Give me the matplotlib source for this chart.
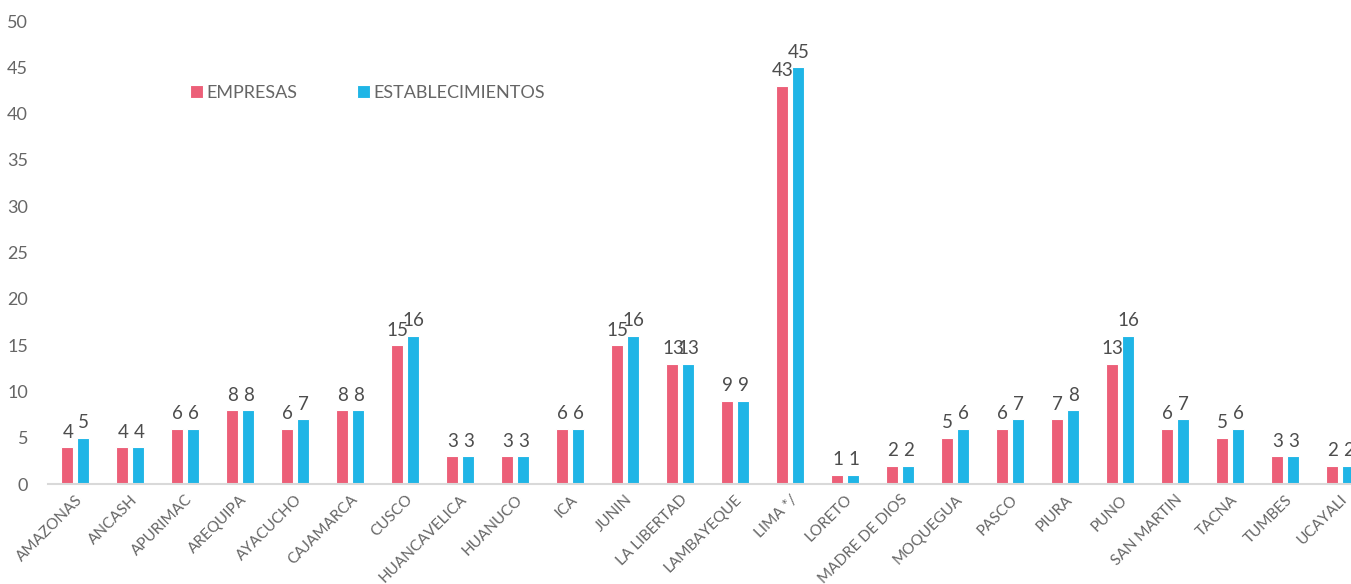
import matplotlib
matplotlib.use("Agg")
import matplotlib.pyplot as plt
import numpy as np

plt.rcParams['font.family'] = ['Lato', 'DejaVu Sans']

regiones = ["AMAZONAS", "ANCASH", "APURIMAC", "AREQUIPA", "AYACUCHO", "CAJAMARCA",
            "CUSCO", "HUANCAVELICA", "HUANUCO", "ICA", "JUNIN", "LA LIBERTAD",
            "LAMBAYEQUE", "LIMA */", "LORETO", "MADRE DE DIOS", "MOQUEGUA", "PASCO",
            "PIURA", "PUNO", "SAN MARTIN", "TACNA", "TUMBES", "UCAYALI"]
empresas = [4, 4, 6, 8, 6, 8, 15, 3, 3, 6, 15, 13, 9, 43, 1, 2, 5, 6, 7, 13, 6, 5, 3, 2]
establecimientos = [5, 4, 6, 8, 7, 8, 16, 3, 3, 6, 16, 13, 9, 45, 1, 2, 6, 7, 8, 16, 7, 6, 3, 2]

rojo = "#EC5F78"
azul = "#1FB5E6"
gris = "#666666"

fig = plt.figure(figsize=(13.51, 5.84), dpi=100)
ax = fig.add_axes([0.0352, 0.171, 0.9648, 0.793])

x = np.arange(len(regiones))
w = 0.23
ax.bar(x - 0.145, empresas, width=w, color=rojo, edgecolor="white", linewidth=0.8, label="EMPRESAS")
ax.bar(x + 0.145, establecimientos, width=w, color=azul, edgecolor="white", linewidth=0.8, label="ESTABLECIMIENTOS")

for xi, v in zip(x, empresas):
    ax.text(xi - 0.13, v + 0.7, str(v), ha="center", va="bottom", fontsize=13.5, color="#4D4D4D")
for xi, v in zip(x, establecimientos):
    ax.text(xi + 0.16, v + 0.7, str(v), ha="center", va="bottom", fontsize=13.5, color="#4D4D4D")

ax.set_xlim(-0.5, 23.2)
ax.set_ylim(0, 50)
ax.set_yticks(range(0, 51, 5))
ax.set_xticks(x)
ax.set_xticklabels(regiones, rotation=45, ha="right", rotation_mode="anchor", fontsize=11, color=gris)
ax.tick_params(axis="y", labelsize=13, labelcolor=gris, length=0, pad=14)
ax.tick_params(axis="x", length=0, pad=6)

for s in ["top", "right", "left"]:
    ax.spines[s].set_visible(False)
ax.spines["bottom"].set_color("#D9D9D9")
ax.spines["bottom"].set_linewidth(1.5)

ax.legend(loc="center left", bbox_to_anchor=(0.097, 0.845), ncol=2, frameon=False,
          fontsize=13, labelcolor=gris, handlelength=0.7, handleheight=0.7,
          handletextpad=0.2, columnspacing=3.3)

fig.savefig("out.png", dpi=100)
